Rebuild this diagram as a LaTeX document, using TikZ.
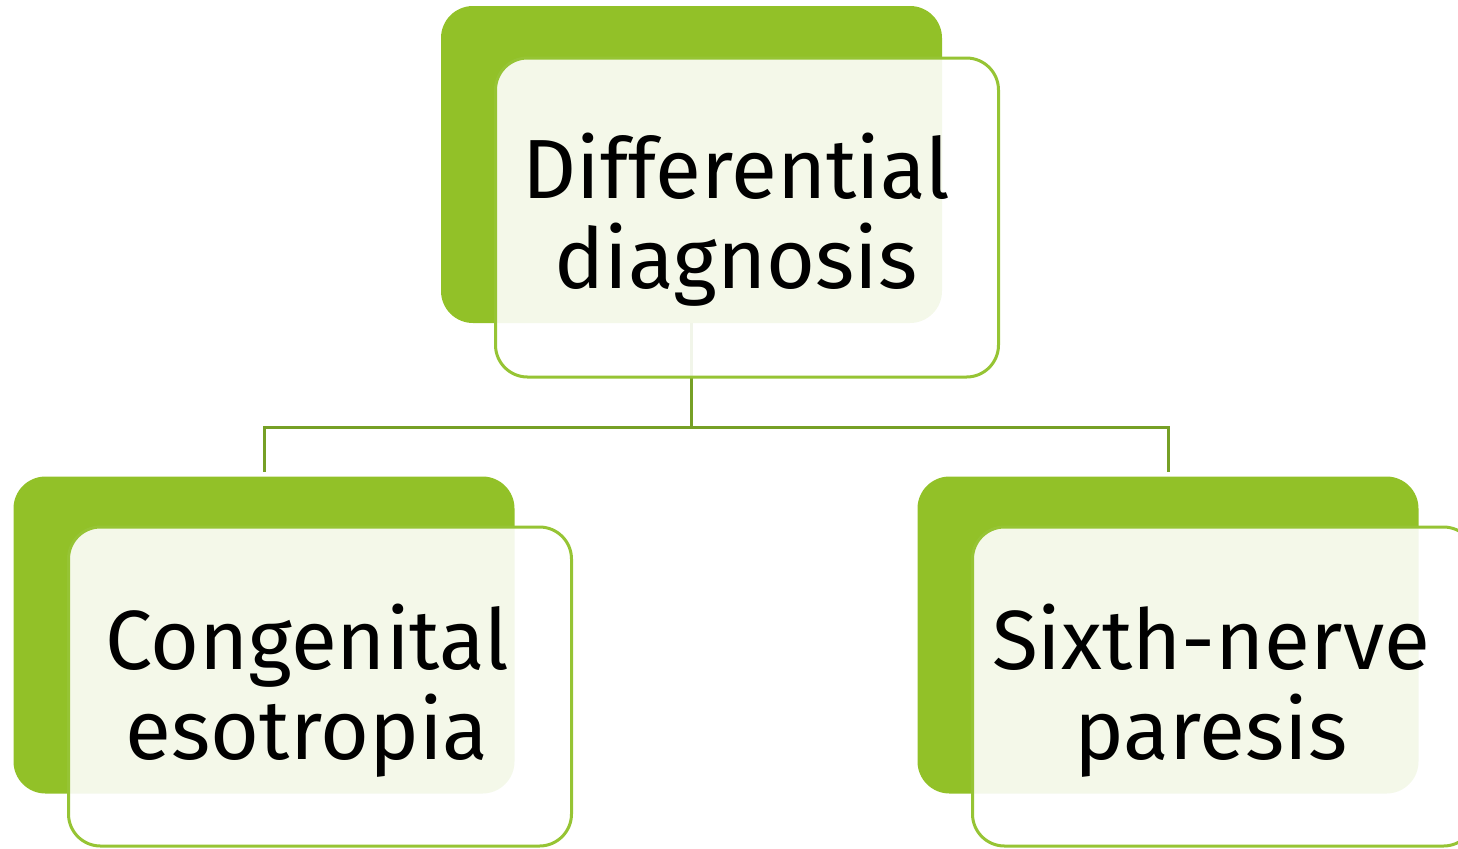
\documentclass[tikz,border=0pt]{standalone}
\usepackage{fontspec}
\setmainfont{Fira Sans}
\definecolor{gfill}{RGB}{146,193,40}
\definecolor{gline}{RGB}{150,196,52}
\definecolor{conn}{RGB}{118,160,38}
\begin{document}
\begin{tikzpicture}[x=0.5pt,y=-0.5pt,
  backbox/.style={rectangle,rounded corners=16pt,fill=gfill,draw=none,inner sep=0pt,outer sep=0pt,minimum width=250.5pt,minimum height=158.5pt},
  frontbox/.style={rectangle,rounded corners=16pt,fill=white,fill opacity=0.9,draw=gline,draw opacity=1,line width=1.5pt,inner sep=0pt,outer sep=0pt,minimum width=251.5pt,minimum height=159.5pt},
  label/.style={align=center,font=\fontsize{42pt}{45pt}\selectfont,text=black,inner sep=0pt},
  link/.style={draw=conn,line width=1.5pt}]
\useasboundingbox (0,0) rectangle (1458,848);
% back boxes
\node[backbox] (tg) at (691.5,164.5) {};
\node[backbox] (lg) at (264,635) {};
\node[backbox] (rg) at (1168,635) {};
% connectors
\coordinate (j) at (691.5,427);
\draw[link] (tg.south) -- (j);
\draw[link,shorten >=2.5pt] (j) -| (lg.north);
\draw[link,shorten >=2.5pt] (j) -| (rg.north);
% front boxes
\node[frontbox] (tf) at (747,217.5) {};
\node[frontbox] (lf) at (320,686.5) {};
\node[frontbox] (rf) at (1224,686.5) {};
% labels
\node[label] (tt) at (736,220) {Differential\\diagnosis};
\node[label] (lt) at (307,691) {Congenital\\esotropia};
\node[label] (rt) at (1211,691) {Sixth-nerve\\paresis};
\end{tikzpicture}
\end{document}
